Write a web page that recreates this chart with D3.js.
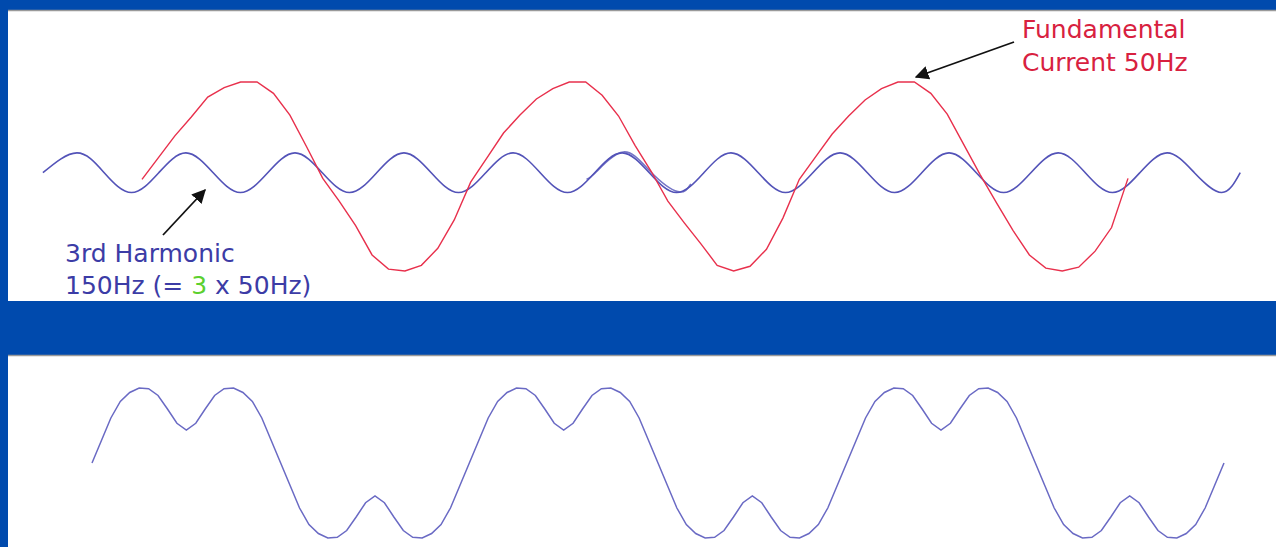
<!DOCTYPE html>
<html><head><meta charset="utf-8">
<script src="https://cdn.jsdelivr.net/npm/d3@7"></script>
<style>html,body{margin:0;padding:0;background:#004aad;overflow:hidden}svg{display:block}</style>
</head><body>
<svg id="chart" width="1276" height="547"></svg>
<script>
// ---------- DATA ----------
// Fundamental current, 50 Hz (time in ms, value in % of peak)
const fundamentalTimesMs = [0,1,2,3,4,5,6,7,8,9,10,11,12,13,14,15,16,17,18,19,20,21,22,23,24,25,26,27,28,29,30,31,32,33,34,35,36,37,38,39,40,41,42,43,44,45,46,47,48,49,50,51,52,53,54,55,56,57,58,59,60];
const fundamentalValues = [-3,20,43,63,84,94,100,100,88,65,32,-2,-26,-52,-83,-98,-100,-94,-76,-46,-6,20,46,65,82,93,100,100,86,64,33,5,-26,-49,-71,-94,-100,-95,-77,-44,-3,21,45,64,81,93,100,100,88,66,34,2,-28,-57,-83,-97,-100,-96,-79,-54,-2];

// 3rd harmonic, 150 Hz (start, peaks / crossings / troughs, end)
const harmonicTimesMs = [-6.03,-3.96,-2.30,-0.64,1.02,2.67,4.33,5.99,7.65,9.31,10.97,12.63,14.28,15.94,17.60,19.26,20.92,22.58,24.23,25.89,27.55,29.21,30.87,32.53,34.19,35.84,37.50,39.16,40.82,42.48,44.14,45.80,47.45,49.11,50.77,52.43,54.09,55.75,57.40,59.06,60.72,62.38,64.04,65.70,66.83];
const harmonicValues = [4,25,4,-17,4,25,4,-17,4,25,4,-17,4,25,4,-17,4,25,4,-17,4,25,4,-17,4,25,4,-17,4,25,4,-17,4,25,4,-17,4,25,4,-17,4,25,4,-17,4];

// short second copy of the harmonic trace that overlaps it in the slide
const harmonicOverlapTimesMs = [27.05,27.65,29.3,30.95,32.6,33.4];
const harmonicOverlapValues = [-3,5,26,5,-16,-8];

// Resulting (distorted) current: fundamental + 3rd harmonic
const sumTimesMs = [0,0.5,1,1.5,2,2.5,3,3.5,4,4.5,5,5.5,6,6.5,7,7.5,8,8.5,9,9.5,10,10.5,11,11.5,12,12.5,13,13.5,14,14.5,15,15.5,16,16.5,17,17.5,18,18.5,19,19.5,20,20.5,21,21.5,22,22.5,23,23.5,24,24.5,25,25.5,26,26.5,27,27.5,28,28.5,29,29.5,30,30.5,31,31.5,32,32.5,33,33.5,34,34.5,35,35.5,36,36.5,37,37.5,38,38.5,39,39.5,40,40.5,41,41.5,42,42.5,43,43.5,44,44.5,45,45.5,46,46.5,47,47.5,48,48.5,49,49.5,50,50.5,51,51.5,52,52.5,53,53.5,54,54.5,55,55.5,56,56.5,57,57.5,58,58.5,59,59.5,60];
const sumValues = [0,30,60,82,94,100,99,90,72,53,44,53,72,90,99,100,94,82,60,30,0,-30,-60,-82,-94,-100,-99,-90,-72,-53,-44,-53,-72,-90,-99,-100,-94,-82,-60,-30,
                   0,30,60,82,94,100,99,90,72,53,44,53,72,90,99,100,94,82,60,30,0,-30,-60,-82,-94,-100,-99,-90,-72,-53,-44,-53,-72,-90,-99,-100,-94,-82,-60,-30,
                   0,30,60,82,94,100,99,90,72,53,44,53,72,90,99,100,94,82,60,30,0,-30,-60,-82,-94,-100,-99,-90,-72,-53,-44,-53,-72,-90,-99,-100,-94,-82,-60,-30,0];

const fundamentalLabel = ["Fundamental", "Current 50Hz"];
const harmonicLabel1 = "3rd Harmonic";
const harmonicLabel2 = ["150Hz (= ", "3", " x 50Hz)"];

// ---------- STYLE / LAYOUT ----------
const BG = "#004aad", RED = "#e8304c", BLUE = "#5353b8", TXTBLUE = "#3c3ca6", GREEN = "#5bd02e";
const svg = d3.select("#chart");
svg.append("rect").attr("width",1276).attr("height",547).attr("fill",BG);

// panels
const panels = [{y:10,h:291},{y:355,h:192}];
panels.forEach(p=>{
  svg.append("rect").attr("x",8).attr("y",p.y).attr("width",1268).attr("height",p.h).attr("fill","#ffffff");
  svg.append("line").attr("x1",8).attr("x2",1276).attr("y1",p.y+0.5).attr("y2",p.y+0.5).attr("stroke","#9a9a9a").attr("stroke-width",1.5);
});

// scales
const xTop = d3.scaleLinear().domain([0,60]).range([142,1128]);
const yTop = d3.scaleLinear().domain([-100,100]).range([271,82]);
const xBot = d3.scaleLinear().domain([0,60]).range([92,1224]);
const yBot = d3.scaleLinear().domain([-100,100]).range([538,388]);

const harmonic = harmonicTimesMs.map((t,i)=>({t, v:harmonicValues[i]}));
const overlap = harmonicOverlapTimesMs.map((t,i)=>({t, v:harmonicOverlapValues[i]}));
const fundamental = fundamentalTimesMs.map((t,i)=>({t, v:fundamentalValues[i]}));
const sum = sumTimesMs.map((t,i)=>({t, v:sumValues[i]}));

const lineH = d3.line().x(d=>xTop(d.t)).y(d=>yTop(d.v)).curve(d3.curveNatural);
const lineF = d3.line().x(d=>xTop(d.t)).y(d=>yTop(d.v)).curve(d3.curveLinear);
const lineS = d3.line().x(d=>xBot(d.t)).y(d=>yBot(d.v)).curve(d3.curveLinear);

svg.append("path").datum(harmonic).attr("d",lineH).attr("fill","none").attr("stroke",BLUE).attr("stroke-width",1.6);
svg.append("path").datum(overlap).attr("d",lineH).attr("fill","none").attr("stroke",BLUE).attr("stroke-width",1.6).attr("opacity",0.8);
svg.append("path").datum(fundamental).attr("d",lineF).attr("fill","none").attr("stroke",RED).attr("stroke-width",1.4);
svg.append("path").datum(sum).attr("d",lineS).attr("fill","none").attr("stroke","#6a6ac4").attr("stroke-width",1.5);

// arrow marker
const defs = svg.append("defs");
defs.append("marker").attr("id","ah").attr("viewBox","0 0 10 10").attr("refX",9).attr("refY",5)
  .attr("markerWidth",14).attr("markerHeight",14).attr("markerUnits","userSpaceOnUse").attr("orient","auto")
  .append("path").attr("d","M0,0 L10,5 L0,10 z").attr("fill","#111");

svg.append("line").attr("x1",1014).attr("y1",42).attr("x2",916).attr("y2",77)
  .attr("stroke","#111").attr("stroke-width",1.8).attr("marker-end","url(#ah)");
svg.append("line").attr("x1",163).attr("y1",235).attr("x2",205).attr("y2",190)
  .attr("stroke","#111").attr("stroke-width",1.8).attr("marker-end","url(#ah)");

// labels
const font = "DejaVu Sans, Verdana, sans-serif";
fundamentalLabel.forEach((s,i)=>{
  svg.append("text").attr("x",1022).attr("y",38+i*33).attr("font-family",font).attr("font-size",25)
    .attr("fill","#d8213f").text(s);
});
svg.append("text").attr("x",65).attr("y",262).attr("font-family",font).attr("font-size",25)
  .attr("fill",TXTBLUE).text(harmonicLabel1);
const t2 = svg.append("text").attr("x",65).attr("y",294).attr("font-family",font).attr("font-size",25).attr("fill",TXTBLUE);
harmonicLabel2.forEach((s,i)=>{ t2.append("tspan").attr("fill", i===1?GREEN:TXTBLUE).text(s); });
</script>
</body></html>
